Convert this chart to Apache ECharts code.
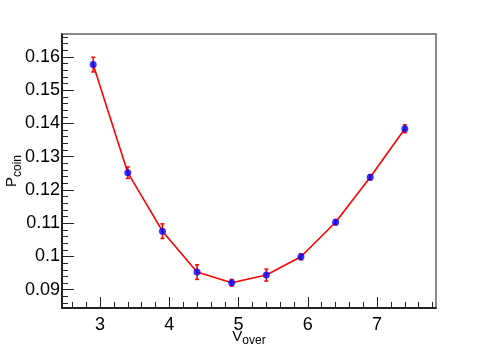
<!DOCTYPE html>
<html>
<head>
<meta charset="utf-8">
<script src="https://cdn.jsdelivr.net/npm/echarts@6/dist/echarts.min.js"></script>
<style>
  html, body { margin: 0; padding: 0; background: #fff; }
  #chart { width: 485px; height: 348px; }
</style>
</head>
<body>
<div id="chart"></div>
<script>
// V_over values and P_coin values, with errors
const vOver = [2.9, 3.4, 3.9, 4.4, 4.9, 5.4, 5.9, 6.4, 6.9, 7.4];
const pCoin = [0.1577, 0.1252, 0.1076, 0.0953, 0.0921, 0.0944, 0.0999, 0.1103, 0.1238, 0.1384];
const pErr = [0.0022, 0.0017, 0.0022, 0.0022, 0.0010, 0.0018, 0.0009, 0.0008, 0.0008, 0.0012];

// tick labels
const xMajor = [3, 4, 5, 6, 7];
const xMinor = [2.6, 2.8, 3.2, 3.4, 3.6, 3.8, 4.2, 4.4, 4.6, 4.8, 5.2, 5.4, 5.6, 5.8,
  6.2, 6.4, 6.6, 6.8, 7.2, 7.4, 7.6, 7.8];
const yMajor = [0.09, 0.1, 0.11, 0.12, 0.13, 0.14, 0.15, 0.16];
const yMinor = [0.086, 0.088, 0.092, 0.094, 0.096, 0.098, 0.102, 0.104, 0.106, 0.108,
  0.112, 0.114, 0.116, 0.118, 0.122, 0.124, 0.126, 0.128, 0.132, 0.134, 0.136, 0.138,
  0.142, 0.144, 0.146, 0.148, 0.152, 0.154, 0.156, 0.158, 0.162, 0.164, 0.166];

const X_MIN = 2.45, X_MAX = 7.85;
const Y_MIN = 0.0845, Y_MAX = 0.1669;
const FONT = "'Liberation Sans', Arial, sans-serif";

const myChart = echarts.init(document.getElementById("chart"));

function xAxisBase(extra) {
  return Object.assign({
    type: "value",
    position: "bottom",
    min: X_MIN,
    max: X_MAX,
    splitLine: { show: false },
    axisLine: { show: false },
    axisLabel: { show: false },
    axisTick: { show: false },
  }, extra);
}
function yAxisBase(extra) {
  return Object.assign({
    type: "value",
    position: "left",
    min: Y_MIN,
    max: Y_MAX,
    splitLine: { show: false },
    axisLine: { show: false },
    axisLabel: { show: false },
    axisTick: { show: false },
  }, extra);
}

const option = {
  animation: false,
  grid: {
    left: 62,
    top: 34,
    right: 49,
    bottom: 40,
    containLabel: false,
    outerBoundsMode: "none",
    show: true,
    borderColor: "#8a8a8a",
    borderWidth: 2,
    backgroundColor: "transparent",
  },
  xAxis: [
    xAxisBase({
      axisLine: { show: true, onZero: false, lineStyle: { color: "#000", width: 1.5 } },
      axisTick: { show: true, inside: true, length: 11, customValues: xMajor, lineStyle: { color: "#222" } },
      axisLabel: {
        show: true, customValues: xMajor, margin: 8,
        color: "#000", fontSize: 18, fontFamily: FONT,
      },
      name: "{v|V}{s|over}",
      nameLocation: "middle",
      nameMoveOverlap: false,
      nameGap: 21,
      nameTextStyle: {
        rich: {
          v: { fontSize: 15, fontFamily: FONT, color: "#000", verticalAlign: "bottom" },
          s: { fontSize: 12, fontFamily: FONT, color: "#000", verticalAlign: "bottom", padding: [0, 0, -3, 0] },
        },
      },
    }),
    xAxisBase({
      axisTick: { show: true, inside: true, length: 6, customValues: xMinor, lineStyle: { color: "#222" } },
    }),
  ],
  yAxis: [
    yAxisBase({
      axisLine: { show: true, onZero: false, lineStyle: { color: "#000", width: 1.5 } },
      axisTick: { show: true, inside: true, length: 12, customValues: yMajor, lineStyle: { color: "#222" } },
      axisLabel: {
        show: true, customValues: yMajor, margin: 2,
        color: "#000", fontSize: 18, fontFamily: FONT,
        formatter: (v) => String(Math.round(v * 100) / 100),
      },
      name: "{p|P}{s|coin}",
      nameLocation: "middle",
      nameMoveOverlap: false,
      nameRotate: 90,
      nameGap: 43,
      nameTextStyle: {
        rich: {
          p: { fontSize: 15, fontFamily: FONT, color: "#000", verticalAlign: "bottom" },
          s: { fontSize: 12, fontFamily: FONT, color: "#000", verticalAlign: "bottom", padding: [0, 0, -5, 0] },
        },
      },
    }),
    yAxisBase({
      axisTick: { show: true, inside: true, length: 6, customValues: yMinor, lineStyle: { color: "#222" } },
    }),
  ],
  series: [
    {
      name: "line",
      type: "line",
      xAxisIndex: 0,
      yAxisIndex: 0,
      data: vOver.map((v, i) => [v, pCoin[i]]),
      symbol: "none",
      lineStyle: { color: "#ff0000", width: 1.6 },
      z: 2,
    },
    {
      name: "errors",
      type: "custom",
      xAxisIndex: 0,
      yAxisIndex: 0,
      data: vOver.map((v, i) => [v, pCoin[i] - pErr[i], pCoin[i] + pErr[i]]),
      renderItem: function (params, api) {
        const lo = api.coord([api.value(0), api.value(1)]);
        const hi = api.coord([api.value(0), api.value(2)]);
        const style = { stroke: "#ff0000", lineWidth: 1.5 };
        const cw = 2;
        return {
          type: "group",
          children: [
            { type: "line", shape: { x1: lo[0], y1: lo[1], x2: hi[0], y2: hi[1] }, style: style },
            { type: "line", shape: { x1: lo[0] - cw, y1: lo[1], x2: lo[0] + cw, y2: lo[1] }, style: style },
            { type: "line", shape: { x1: hi[0] - cw, y1: hi[1], x2: hi[0] + cw, y2: hi[1] }, style: style },
          ],
        };
      },
      z: 3,
    },
    {
      name: "points",
      type: "scatter",
      xAxisIndex: 0,
      yAxisIndex: 0,
      data: vOver.map((v, i) => [v, pCoin[i]]),
      symbol: "circle",
      symbolSize: 7,
      itemStyle: { color: "#0000ff" },
      z: 4,
    },
  ],
};
myChart.setOption(option);
</script>
</body>
</html>
